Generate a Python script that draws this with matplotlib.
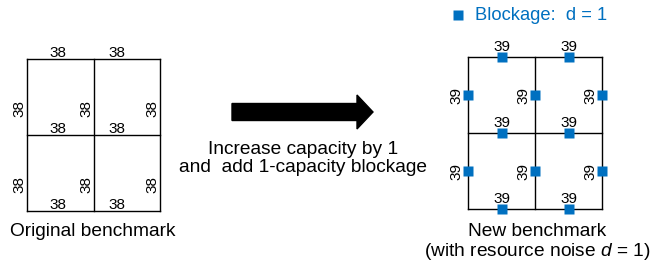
import numpy as np
import matplotlib.pyplot as plt
from matplotlib.patches import FancyArrow

plt.rcParams['font.family'] = ['Liberation Sans', 'DejaVu Sans']
plt.rcParams['mathtext.fontset'] = 'custom'
plt.rcParams['mathtext.rm'] = 'Liberation Sans'
plt.rcParams['mathtext.it'] = 'Liberation Sans:italic'

# Capacities on each edge of the 2x2 grid
# horizontal edges: 3 rows (top, middle, bottom) x 2 columns
h_cap_orig = [[38, 38], [38, 38], [38, 38]]
# vertical edges: 2 rows (upper, lower) x 3 columns (left, middle, right)
v_cap_orig = [[38, 38, 38], [38, 38, 38]]
d_noise = 1
h_cap_new = [[c + d_noise for c in row] for row in h_cap_orig]
v_cap_new = [[c + d_noise for c in row] for row in v_cap_orig]

BLUE = '#0070C0'
NUM_FS = 11
TXT_FS = 13.8

fig = plt.figure(figsize=(6.71, 2.71), dpi=100)
ax = fig.add_axes([0, 0, 1, 1])
ax.set_xlim(0, 671)
ax.set_ylim(271, 0)
ax.axis('off')


def draw_grid(xs, ys, h_cap, v_cap, blockage, h_dy, v_dx, v_frac, h_frac):
    for y in ys:
        ax.plot([xs[0], xs[-1]], [y, y], color='black', lw=1.0)
    for x in xs:
        ax.plot([x, x], [ys[0], ys[-1]], color='black', lw=1.0)
    # horizontal edge labels
    for r, y in enumerate(ys):
        for c in range(2):
            xm = (xs[c] + xs[c + 1]) / 2
            xl = xs[c] + (xs[c + 1] - xs[c]) * h_frac[c]
            ax.text(xl, y - h_dy, str(h_cap[r][c]), ha='center', va='center', fontsize=NUM_FS)
            if blockage:
                ax.plot(xm, y, 's', color=BLUE, ms=6.5, mec='none')
    # vertical edge labels
    for r in range(2):
        ym = ys[r] + (ys[r + 1] - ys[r]) * v_frac
        for c, x in enumerate(xs):
            ax.text(x - v_dx, ym, str(v_cap[r][c]), ha='center', va='center',
                    rotation=90, fontsize=NUM_FS)
            if blockage:
                ax.plot(x, (ys[r] + ys[r + 1]) / 2, 's', color=BLUE, ms=6.5, mec='none')


# original benchmark
draw_grid([27, 94, 160], [59, 135, 211], h_cap_orig, v_cap_orig, False, 6, 8, 0.65, [0.46, 0.35])
ax.text(93, 231, 'Original benchmark', ha='center', va='center', fontsize=TXT_FS)

# arrow and description
ax.add_patch(FancyArrow(232, 112, 141, 0, width=17, head_width=34, head_length=16,
                        length_includes_head=True, color='black'))
ax.text(303, 149, 'Increase capacity by 1', ha='center', va='center', fontsize=TXT_FS)
ax.text(303, 167, 'and  add 1-capacity blockage', ha='center', va='center', fontsize=TXT_FS)

# new benchmark
draw_grid([468, 535, 602], [57, 133, 209], h_cap_new, v_cap_new, True, 10, 12, 0.5, [0.5, 0.5])
ax.text(537, 231, 'New benchmark', ha='center', va='center', fontsize=TXT_FS)
ax.text(537, 252, '(with resource noise $d$ = 1)', ha='center', va='center', fontsize=TXT_FS)

# legend
ax.plot(458, 15, 's', color=BLUE, ms=6.5, mec='none')
ax.text(475, 15, 'Blockage:  d = %d' % d_noise, color=BLUE, ha='left', va='center', fontsize=13.2)

fig.savefig('out.png', dpi=100)
